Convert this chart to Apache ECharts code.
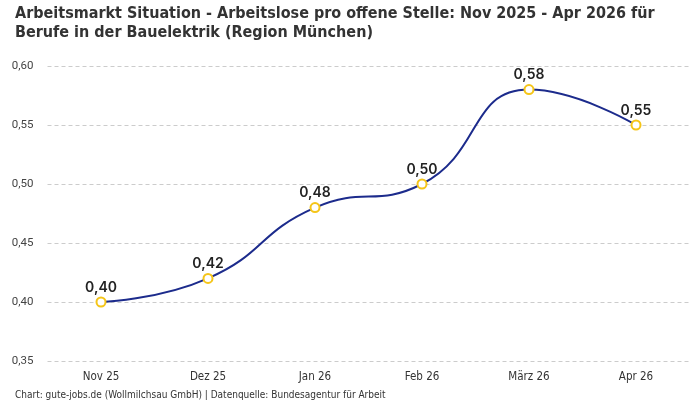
<!DOCTYPE html>
<html><head><meta charset="utf-8">
<script src="https://cdn.jsdelivr.net/npm/echarts@6/dist/echarts.min.js"></script>
<style>html,body{margin:0;padding:0;background:#fff}#c{width:700px;height:400px}</style>
</head><body><div id="c"></div>
<script>
const categories = ["Nov 25", "Dez 25", "Jan 26", "Feb 26", "März 26", "Apr 26"];
const values = [0.40, 0.42, 0.48, 0.50, 0.58, 0.55];
const yTicks = [0.35, 0.40, 0.45, 0.50, 0.55, 0.60];
const titleText = "Arbeitsmarkt Situation - Arbeitslose pro offene Stelle: Nov 2025 - Apr 2026 für\nBerufe in der Bauelektrik (Region München)";
const footerText = "Chart: gute-jobs.de (Wollmilchsau GmbH) | Datenquelle: Bundesagentur für Arbeit";
const fmt = v => v.toFixed(2).replace('.', ',');
const cond = "DejaVu Sans Condensed, Liberation Sans Narrow, sans-serif";
const chart = echarts.init(document.getElementById('c'));
chart.setOption({
  animation: false,
  title: [{
    text: titleText, left: 10, top: -1,
    textStyle: {fontFamily: cond, fontSize: 16, fontWeight: 'bold', color: '#333', lineHeight: 19}
  }, {
    text: footerText, left: 10, top: 385,
    textStyle: {fontFamily: cond, fontSize: 10, fontWeight: 'normal', color: '#333'}
  }],
  grid: {left: 47.5, right: 10.5, top: 66, bottom: 39},
  xAxis: {
    type: 'category', data: categories, boundaryGap: true,
    axisLine: {show: false}, axisTick: {show: false},
    axisLabel: {margin: 10, fontFamily: cond, fontSize: 11.5, color: '#333'}
  },
  yAxis: {
    type: 'value', min: yTicks[0], max: yTicks[yTicks.length - 1], interval: 0.05,
    axisLine: {show: false}, axisTick: {show: false},
    axisLabel: {formatter: fmt, fontFamily: "Roboto, sans-serif", fontSize: 11.5, color: '#444', margin: 14},
    splitLine: {lineStyle: {type: [4, 3], color: '#cccccc', width: 1}}
  },
  series: [{
    type: 'line', data: values, smooth: 0.5,
    lineStyle: {color: '#1c2b8c', width: 2},
    symbol: 'circle', symbolSize: 9,
    itemStyle: {color: '#ffffff', borderColor: '#f5c518', borderWidth: 2},
    label: {show: true, position: 'top', distance: 2, formatter: p => fmt(p.value),
      fontFamily: "Inter, Noto Sans, sans-serif", fontSize: 14, fontWeight: 600, color: '#222'}
  }]
});
</script></body></html>
